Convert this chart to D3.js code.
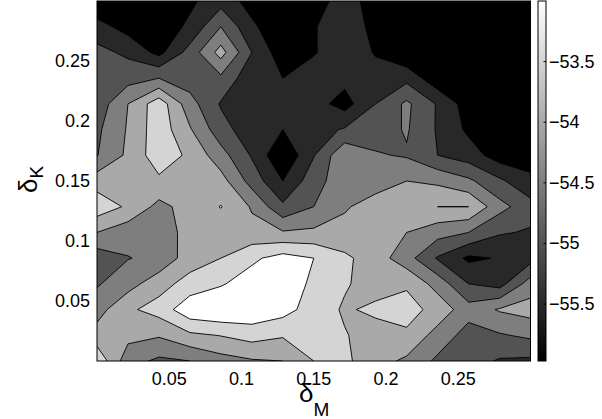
<!DOCTYPE html>
<html>
<head>
<meta charset="utf-8">
<script src="https://cdn.jsdelivr.net/npm/d3@7"></script>
<style>
  body { margin: 0; background: #fff; }
  text { font-family: "Liberation Sans", Arial, sans-serif; fill: #000; }
</style>
</head>
<body>
<div id="chart"></div>
<script>
// sample grid: delta_M along x, delta_K along y (15 x 15)
const deltaM = [0, 0.02143, 0.04286, 0.06429, 0.08571, 0.10714, 0.12857, 0.15, 0.17143, 0.19286, 0.21429, 0.23571, 0.25714, 0.27857, 0.3];
const deltaK = [0, 0.02143, 0.04286, 0.06429, 0.08571, 0.10714, 0.12857, 0.15, 0.17143, 0.19286, 0.21429, 0.23571, 0.25714, 0.27857, 0.3];

// values, one row per delta_K (bottom row first)
const energy = [
  [-53.1, -54.3, -54.6, -54.5, -54.2, -54.05, -54.0, -53.5, -53.4, -53.8, -54.1, -54.6, -54.8, -55.05, -55.1],
  [-53.8, -53.85, -53.95, -53.6, -53.48, -53.3, -53.45, -53.35, -53.47, -53.7, -53.59, -54.2, -54.7, -54.55, -54.4],
  [-54.2, -53.59, -53.3, -52.65, -52.54, -52.6, -52.8, -53.24, -53.56, -53.4, -53.3, -53.68, -54.3, -53.95, -53.8],
  [-54.55, -54.2, -53.7, -53.3, -53.05, -52.75, -52.7, -53.1, -53.45, -53.7, -53.57, -54.2, -55.0, -55.2, -54.25],
  [-54.8, -54.52, -54.37, -53.75, -53.5, -53.1, -52.8, -53.0, -53.4, -53.75, -54.3, -55.05, -55.6, -55.46, -55.2],
  [-54.0, -54.3, -54.3, -53.8, -53.8, -53.85, -53.95, -53.9, -53.85, -53.8, -54.0, -54.3, -54.5, -54.95, -55.05],
  [-53.2, -53.575, -54.15, -53.8, -53.48, -54.05, -54.9, -54.5, -54.05, -53.8, -53.75, -53.5, -53.5, -54.33, -54.8],
  [-53.72, -53.75, -53.6, -53.7, -53.8, -54.7, -55.5, -54.7, -54.2, -54.2, -54.0, -54.1, -54.4, -54.9, -55.4],
  [-54.52, -53.9, -53.2, -53.6, -54.3, -55.05, -55.97, -55.03, -54.08, -54.45, -54.55, -55.0, -55.25, -55.75, -55.7],
  [-54.6, -53.95, -53.2, -53.95, -54.8, -55.3, -55.5, -55.2, -54.95, -54.75, -54.45, -55.05, -55.6, -55.95, -55.95],
  [-54.8, -54.0, -53.2, -54.3, -55.05, -55.3, -55.3, -55.3, -55.7, -55.0, -54.4, -55.05, -55.75, -55.95, -55.95],
  [-54.8, -54.7, -54.5, -54.75, -54.6, -55.35, -55.5, -55.2, -55.35, -55.25, -55.15, -55.85, -55.95, -55.95, -55.95],
  [-54.85, -55.1, -55.65, -54.8, -53.8, -55.0, -55.8, -55.55, -55.1, -55.55, -55.95, -55.95, -55.95, -55.95, -55.95],
  [-55.3, -55.7, -55.8, -55.4, -54.5, -55.4, -55.9, -55.55, -55.1, -55.7, -55.9, -55.95, -55.95, -55.95, -55.95],
  [-55.95, -55.9, -55.85, -55.6, -55.2, -55.7, -55.9, -55.8, -55.2, -55.8, -55.9, -55.95, -55.9, -55.9, -55.95]
];

const levels = [-55.5, -55, -54.5, -54, -53.5, -53];
const xTicks = [0.05, 0.1, 0.15, 0.2, 0.25];
const yTicks = [0.05, 0.1, 0.15, 0.2, 0.25];
const cbTicks = [-55.5, -55, -54.5, -54, -53.5];
const cMin = -55.97, cMax = -53.0;

const plot = { left: 97, right: 530.5, top: 1, bottom: 361 };

const x = d3.scaleLinear().domain([0, 0.3]).range([plot.left, plot.right]);
const y = d3.scaleLinear().domain([0, 0.3]).range([plot.bottom, plot.top]);
const gray = d3.scaleLinear().domain([cMin, cMax]).range(["#000", "#fff"]).clamp(true);

const svg = d3.select("#chart").append("svg")
  .attr("width", 602)
  .attr("height", 419);

svg.append("rect").attr("width", 602).attr("height", 419).attr("fill", "#fff");

const defs = svg.append("defs");
defs.append("clipPath").attr("id", "plotclip")
  .append("rect")
  .attr("x", plot.left).attr("y", plot.top)
  .attr("width", plot.right - plot.left).attr("height", plot.bottom - plot.top);

// contour bands
const nx = deltaM.length, ny = deltaK.length;
const bands = d3.contours().size([nx, ny]).thresholds(levels)(energy.flat());

// grid index -> data coordinate (samples sit at cell centres in d3.contours)
const gi = d3.scaleLinear().domain([0, nx - 1]).range([deltaM[0], deltaM[nx - 1]]);
const gj = d3.scaleLinear().domain([0, ny - 1]).range([deltaK[0], deltaK[ny - 1]]);
const proj = d3.geoTransform({
  point: function(px, py) {
    this.stream.point(x(gi(px - 0.5)), y(gj(py - 0.5)));
  }
});
const path = d3.geoPath(proj);

const g = svg.append("g").attr("clip-path", "url(#plotclip)");

g.append("rect")
  .attr("x", plot.left).attr("y", plot.top)
  .attr("width", plot.right - plot.left).attr("height", plot.bottom - plot.top)
  .attr("fill", gray(cMin));

g.selectAll("path.band")
  .data(bands)
  .join("path")
  .attr("class", "band")
  .attr("d", path)
  .attr("fill", d => gray(d.value))
  .attr("stroke", "#000")
  .attr("stroke-width", 0.9)
  .attr("stroke-linejoin", "miter");

// plot frame
svg.append("rect")
  .attr("x", plot.left).attr("y", plot.top)
  .attr("width", plot.right - plot.left).attr("height", plot.bottom - plot.top)
  .attr("fill", "none")
  .attr("stroke", "#000")
  .attr("stroke-width", 1);

// tick labels
svg.selectAll("text.xt")
  .data(xTicks)
  .join("text")
  .attr("class", "xt")
  .attr("x", d => x(d))
  .attr("y", 385)
  .attr("text-anchor", "middle")
  .style("font-size", "18px")
  .text(d => d);

svg.selectAll("text.yt")
  .data(yTicks)
  .join("text")
  .attr("class", "yt")
  .attr("x", 90)
  .attr("y", d => y(d) + 6)
  .attr("text-anchor", "end")
  .style("font-size", "18px")
  .text(d => d);

// axis labels
const xl = svg.append("text")
  .attr("x", 299)
  .attr("y", 402)
  .style("font-size", "26px")
  .text("δ");
xl.append("tspan").attr("dy", 14).style("font-size", "19px").text("M");

const yl = svg.append("text")
  .attr("transform", "translate(37,193) rotate(-90)")
  .style("font-size", "26px")
  .text("δ");
yl.append("tspan").attr("dy", 6).style("font-size", "19px").text("K");

// colorbar
const cb = d3.scaleLinear().domain([cMin, cMax]).range([361, 1]);
const grad = defs.append("linearGradient")
  .attr("id", "cbgrad")
  .attr("x1", 0).attr("x2", 0).attr("y1", 1).attr("y2", 0);
grad.append("stop").attr("offset", 0).attr("stop-color", gray(cMin));
grad.append("stop").attr("offset", 1).attr("stop-color", gray(cMax));

const cbx = 538, cbw = 8;
svg.append("rect")
  .attr("x", cbx).attr("y", cb(cMax))
  .attr("width", cbw).attr("height", cb(cMin) - cb(cMax))
  .attr("fill", "url(#cbgrad)")
  .attr("stroke", "#000")
  .attr("stroke-width", 1);

svg.selectAll("line.cbt")
  .data(cbTicks)
  .join("line")
  .attr("class", "cbt")
  .attr("x1", cbx + cbw - 2.5).attr("x2", cbx + cbw)
  .attr("y1", d => cb(d)).attr("y2", d => cb(d))
  .attr("stroke", "#000");

svg.selectAll("text.cbl")
  .data(cbTicks)
  .join("text")
  .attr("class", "cbl")
  .attr("x", 549)
  .attr("y", d => cb(d) + 6)
  .style("font-size", "18px")
  .text(d => String(d).replace("-", "\u2212"));
</script>
</body>
</html>
